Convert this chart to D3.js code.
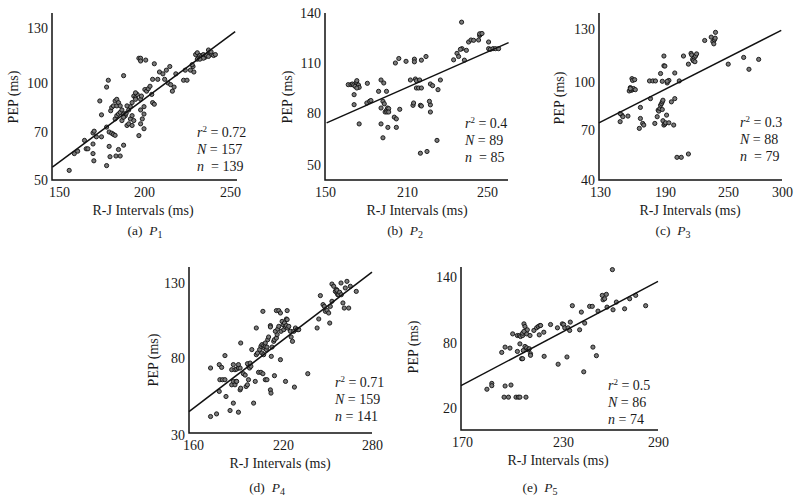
<!DOCTYPE html>
<html>
<head>
<meta charset="utf-8">
<script src="https://cdn.jsdelivr.net/npm/d3@7"></script>
<style>
html, body { margin: 0; padding: 0; background: #fff; }
svg text { font-family: "Liberation Serif", "Times New Roman", serif; fill: #1a1a1a; white-space: pre; }
</style>
</head>
<body>
<svg id="chart" width="800" height="502"></svg>
<script>
// values: R-J interval (ms) vs PEP (ms), one array per subject
var p1Points = [
    [156,54],[159,61],[161,62],[165,66.5],[166,63],[167,63],[170,69.6],[170.7,70.5],[170,65],[170,61],
    [170.5,58],[172,68],[174,89],[175,80.5],[175,68],[178,73],[178,97.5],[179,101.5],[178,56],[179.5,64],
    [179.5,70],[181,69.5],[182,69],[183,68.6],[180,59.7],[180.4,83],[181,85],[182,86],[183,89],[184,90],
    [184,86],[183.5,60],[185,62.7],[186,60],[188,64.5],[188,104],[183,78],[184,80],[185,81],[186,82],
    [187,83.5],[188,81],[189,80],[187,77],[188,79],[189.5,81.5],[185,88],[186,86],[190,74],[191,75],
    [192,78],[191,83.5],[192,85.5],[193,88],[190,86],[194,92],[195,91],[196,93],[195,94],[195,90],
    [193,80],[194,77],[193,74],[197,113.5],[198,113.5],[198,112],[201,112.5],[197,68.5],[198,75],[198,83.5],
    [199,78],[200,81],[200,85.5],[200,72],[198,90],[198.5,92],[200.5,96],[201.5,95],[202.5,96.5],[203.5,98],
    [204.5,93],[205,88],[206,87],[205,102],[206,110.5],[208,102],[209,106],[211,105],[212,102],[213,107],
    [215,109],[214,100],[215.5,99],[216.5,95],[217.5,97.5],[218.5,105],[223,101.5],[225,101.5],[224,107],[227,107],
    [228.5,109],[229,106],[228,110],[231,113],[232,114],[230,115.5],[231,116.5],[232.5,115],[233.5,114.5],[234.5,115.5],
    [235.5,114],[236.5,115],[237.5,114.5],[238.5,116.5],[239.5,115.5],[240.5,115],[241.5,115.5],[234.5,113.5],[232.5,113],[237.5,118],
    [239,117]
];
var p2Points = [
    [167,97],[169,97],[170,97.4],[171,96.8],[173,98.4],[173.3,99.4],[174,96],[172,96],[174.5,96.8],[175,95.4],
    [173.3,95],[171.3,91],[171.3,85],[175,73.7],[181,97.8],[180.6,86],[182.6,87],[183.6,87.5],[189.2,93],[191,99.8],
    [193,98],[195,93],[191,73.7],[192.4,65.7],[191,83],[192.4,87],[193.4,85.5],[194,80.6],[195,81.6],[195.8,83],
    [196.6,82.6],[195.3,80.6],[196.6,80.6],[196,71.7],[200.7,77.6],[202.2,76.6],[204.7,82.2],[201.5,110],[204,112.7],[209.3,111],
    [202.2,71.7],[211.7,99.8],[214.2,100.4],[214.7,99.4],[216.3,99.8],[214.7,95],[215.8,95],[217.2,95],[213.7,112.3],[213.7,110.7],
    [217.2,111.7],[219.5,113.9],[213,84.6],[213.3,86],[216.7,84.6],[217.2,84.2],[216.7,56.8],[220,57.8],[225,64.2],[221.7,97.4],
    [222.8,96.4],[225.5,94],[226.7,99.8],[221.7,84.9],[221.2,87],[221.7,80.6],[233.3,111.9],[235,115.8],[235.8,113.9],[237.5,118.6],
    [236.7,118.2],[238.7,111.7],[239.7,117.6],[237.3,134.5],[240.8,122.6],[242,123.8],[243.3,123.6],[245.8,123.8],[246.3,126.5],[246.7,127.3],
    [246.3,127.5],[247.5,127.7],[250.8,122.6],[250.8,118.6],[251.7,118.2],[253,118.6],[254.2,118.6],[255.8,118.6]
];
var p3Points = [
    [148.6,75.2],[150.2,79.3],[151.1,78.3],[148.6,80.3],[155.8,78.7],[157,94.4],[158,96.5],[158.9,94.8],[160.1,95.2],[161,95.9],
    [162.6,95.2],[159.5,101.9],[160.1,100.9],[162,101.3],[158,95.9],[167.3,84.1],[167.3,77.2],[169.4,74.1],[170.4,73.1],[166.3,71],
    [176.6,89.6],[175.7,100.6],[178.8,100.6],[181.2,100.6],[180.6,74.1],[182.8,78.3],[183.7,82.4],[184.3,81.8],[185.3,83.4],[185.9,85.5],
    [186.8,86.5],[187.5,87.6],[188.1,88.6],[187.5,82.8],[188.1,75.8],[189,73.1],[189.9,73.7],[191.5,79.3],[190.6,74.5],[193.7,74.5],
    [198.3,73.1],[185.9,104.8],[187.5,100.4],[189,114.7],[189,109.2],[189.9,109],[192.1,99.4],[193.7,100.9],[192.1,100.4],[196.1,87.6],
    [199.3,89.6],[199.3,105.1],[203.6,100.6],[207.6,114.7],[212.3,110.1],[201.4,53.6],[205.5,53.6],[212.3,55.6],[214.8,116.2],[215.4,115.3],
    [216.3,112.8],[217.9,113.9],[219.1,114.7],[220.1,115.9],[217,112],[218.5,111.5],[227.8,123.5],[234,125.4],[235.6,122.9],[236.5,121.6],
    [237.1,123.9],[238.1,128.1],[237.8,124.8],[250.2,110.1],[264.5,113.9],[269.4,107.2],[278.4,112.8]
];
var p4Points = [
    [171.7,42],[175.7,43.7],[184.7,45.9],[190.3,44.8],[186.9,50.7],[182,55],[171.7,73.5],[177.5,75.7],[179.1,73.9],[181.3,81.6],
    [177.5,58.3],[177.9,65.9],[179.7,65.9],[181.3,65.9],[185.8,62.6],[186.9,64.8],[188,62.6],[188.7,64.8],[185.8,72.4],[186.9,75.7],
    [188,72.4],[189.1,72.8],[190.3,73.5],[191.4,73.5],[190.3,75.7],[189.1,64.8],[191.4,59.3],[191.8,60.4],[191.8,90],[193.6,69.8],
    [194.8,68.9],[195.4,61.5],[196.3,62.6],[197,65.9],[197.2,75],[196.3,76.3],[197.7,73.5],[198.6,74.6],[198.1,76.7],[200.4,50.7],
    [201.5,64.8],[199.2,85.6],[202.2,100],[202.2,82.2],[203,83.3],[203.7,70.7],[205.3,70.7],[206.6,69.8],[204.4,85.6],[205.3,87.8],
    [206,88.9],[207.1,88.2],[207.5,86.7],[208.2,87.8],[208.9,85.6],[209.3,87.3],[206,83.3],[207.1,82.2],[208.2,90],[209.8,92.2],
    [210.4,94],[206.6,111.1],[208.2,65.9],[209.3,65.9],[211.6,59.3],[212,57.2],[211.6,101.6],[211.6,100.7],[212.2,81.1],[212.7,87.3],
    [213.8,91.1],[214.3,92.2],[215.6,93.3],[216.1,95.6],[214.9,97.8],[216.5,99.3],[217.2,101.1],[214.3,68.5],[215.6,111.6],[217.2,111.6],
    [218.3,110],[218.3,78.9],[218.7,97.8],[219.4,104.4],[220.1,102.2],[221,103.3],[220.5,98.9],[221.7,100.7],[222.3,106],[222.3,101.6],
    [221.7,64.8],[222.8,111.6],[222.8,105.6],[223.2,100],[223.9,101.1],[225,97.8],[225.5,94],[226.4,91.1],[227.3,97.8],[227.7,61.1],
    [228.4,100],[229.5,98.9],[230.6,98.9],[236.7,69.8],[243,100],[244.1,106],[245.2,121.6],[247,115.6],[247.9,114.4],[248.6,111.1],
    [249.7,111.8],[250.8,110],[251.5,103.3],[251.9,114.4],[253,117.8],[253,129.3],[254.2,127.8],[255.3,124.4],[256,125.6],[256.4,123.3],
    [256.9,122.2],[257.5,122.2],[256.4,125.1],[258.2,123.8],[259.1,130],[259.3,122.2],[260.4,116.7],[261.3,113.3],[262,126.7],[263.1,131.1],
    [264.3,113.3],[265.4,127.8],[269.4,124.4]
];
var p5Points = [
    [184.8,37.3],[187.7,42.7],[187.7,40.6],[195.6,40.3],[199.1,41.2],[195,30],[197.6,30],[202.1,30],[203.5,30],[204.4,30],
    [208,30],[193.6,71.3],[195.6,76.2],[198.5,75.3],[200.1,88.3],[202.9,86.8],[204.1,86.8],[204.8,85.9],[206,86.8],[206,88.9],
    [206.8,97.4],[207.4,95],[208.4,88.3],[208.8,92],[210.4,86.8],[206.8,90.5],[202.9,72.2],[204.4,79.2],[205.4,65.5],[206,65.5],
    [206.4,73.1],[207.4,76.8],[208.4,75.6],[209.4,73.7],[210,74.7],[210.7,70.1],[210.7,68.6],[212.7,91.4],[214.3,93.8],[215.3,95],
    [216.3,95.9],[216.7,95.9],[215.9,87.4],[218.6,89.8],[218.8,67.7],[222.6,96.8],[226.7,93.8],[227.1,60.4],[229.6,97.4],[230.4,96.8],
    [231.1,93.8],[232.5,67.1],[233.2,93.8],[234.2,91.4],[234.6,99],[235.9,113.9],[240.5,92],[241.6,108.1],[243.7,98.1],[243.1,53.4],
    [246.8,113.3],[248.5,113.3],[248.9,76.2],[251.1,68.3],[252.1,109],[254.8,123.3],[255.3,119.3],[256.3,120.2],[257.4,124.2],[257.8,112.6],
    [261.2,146.7],[261.6,110.2],[263.7,117.2],[268.9,111.1],[272.1,120.2],[275.9,123.3],[282.2,113.9]
];

// tick labels as printed (the original spacing is uneven, so each scale goes through them)
var xTicks1 = [150, 200, 250], yTicks1 = [50, 70, 100, 130];
var xTicks2 = [150, 210, 250], yTicks2 = [50, 80, 110, 140];
var xTicks3 = [130, 190, 250, 300], yTicks3 = [40, 70, 100, 130];
var xTicks4 = [160, 220, 280], yTicks4 = [30, 80, 130];
var xTicks5 = [170, 230, 290], yTicks5 = [20, 80, 140];

// fitted line, two ends in data units
var fit1 = [[146.1, 55.4], [253, 128]];
var fit2 = [[151.2, 74.3], [260.8, 122.2]];
var fit3 = [[129, 74.5], [299.3, 129.2]];
var fit4 = [[157.3, 45.2], [280, 137.3]];
var fit5 = [[169.4, 40.6], [290, 136]];

// r^2, N, n
var stats1 = ['0.72', '157', '139'];
var stats2 = ['0.4', '89', '85'];
var stats3 = ['0.3', '88', '79'];
var stats4 = ['0.71', '159', '141'];
var stats5 = ['0.5', '86', '74'];

var letters = ['a', 'b', 'c', 'd', 'e'];

(function(){
    'use strict';

    var svg = d3.select( '#chart' ),
        // pixel boxes: frame, where the tick labels sit, titles
        boxes = [
            { left: 52, right: 237, top: 13, bottom: 180, xAt: [59, 144, 230], yAt: [180, 132, 83, 28],
              yTitle: [13, 97], xTitle: [143, 214.5], caption: [145, 235], stats: [197, 136.5], nPad: true },
            { left: 325, right: 508, top: 13, bottom: 180, xAt: [325, 407, 487], yAt: [165, 113, 63, 13],
              yTitle: [287, 97], xTitle: [417, 214.5], caption: [405, 235], stats: [465, 127.5], nPad: true },
            { left: 599, right: 782, top: 13, bottom: 180, xAt: [600, 665, 728, 782], yAt: [180, 130, 82, 29],
              yTitle: [559, 98], xTitle: [690, 214.5], caption: [673, 235], stats: [740, 126.5], nPad: true },
            { left: 189, right: 372, top: 267, bottom: 433, xAt: [193, 283, 372], yAt: [435, 358, 283],
              yTitle: [153, 360], xTitle: [280, 467.5], caption: [267, 492], stats: [335, 386.5], nPad: false },
            { left: 461, right: 658, top: 267, bottom: 430, xAt: [462, 563, 658], yAt: [408, 343, 277],
              yTitle: [413, 347], xTitle: [558, 464.5], caption: [540, 492], stats: [608, 389.5], nPad: false }
        ],
        panels = [
            { points: p1Points, xTicks: xTicks1, yTicks: yTicks1, fit: fit1, stats: stats1 },
            { points: p2Points, xTicks: xTicks2, yTicks: yTicks2, fit: fit2, stats: stats2 },
            { points: p3Points, xTicks: xTicks3, yTicks: yTicks3, fit: fit3, stats: stats3 },
            { points: p4Points, xTicks: xTicks4, yTicks: yTicks4, fit: fit4, stats: stats4 },
            { points: p5Points, xTicks: xTicks5, yTicks: yTicks5, fit: fit5, stats: stats5 }
        ];

    // d3 axis sets its own small sans font on the group; put the serif back
    function plainAxis( a ){
        a.attr( 'font-size', 14 ).attr( 'font-family', null );
        a.select( '.domain' ).remove();
    }

    function drawPanel( p, b, i ){
        var x = d3.scaleLinear().domain( p.xTicks ).range( b.xAt ),
            y = d3.scaleLinear().domain( p.yTicks ).range( b.yAt ),
            g = svg.append( 'g' ).attr( 'class', 'panel' ),
            st;

        g.append( 'g' )
            .attr( 'transform', 'translate(0,' + b.bottom + ')' )
            .call( d3.axisBottom( x ).tickValues( p.xTicks ).tickSize( 0 ).tickPadding( 7 ) )
            .call( plainAxis );

        g.append( 'g' )
            .attr( 'transform', 'translate(' + b.left + ',0)' )
            .call( d3.axisLeft( y ).tickValues( p.yTicks ).tickSize( 0 ).tickPadding( 4 ) )
            .call( plainAxis );

        g.selectAll( 'circle' )
            .data( p.points )
            .join( 'circle' )
            .attr( 'cx', function( d ){ return x( d[0] ); } )
            .attr( 'cy', function( d ){ return y( d[1] ); } )
            .attr( 'r', 2.1 )
            .attr( 'fill', '#7a7a7a' )
            .attr( 'stroke', '#111' )
            .attr( 'stroke-width', 0.9 );

        g.append( 'line' )
            .attr( 'x1', x( p.fit[0][0] ) )
            .attr( 'y1', y( p.fit[0][1] ) )
            .attr( 'x2', x( p.fit[1][0] ) )
            .attr( 'y2', y( p.fit[1][1] ) )
            .attr( 'stroke', '#111' )
            .attr( 'stroke-width', 1.5 );

        // L-shaped frame
        g.append( 'path' )
            .attr( 'd', 'M' + b.left + ',' + b.top + 'V' + b.bottom + 'H' + b.right )
            .attr( 'fill', 'none' )
            .attr( 'stroke', '#111' )
            .attr( 'stroke-width', 1.5 );

        g.append( 'text' )
            .attr( 'transform', 'translate(' + b.yTitle[0] + ',' + b.yTitle[1] + ') rotate(-90)' )
            .attr( 'text-anchor', 'middle' )
            .attr( 'dy', '0.35em' )
            .attr( 'font-size', 14 )
            .text( 'PEP (ms)' );

        g.append( 'text' )
            .attr( 'x', b.xTitle[0] )
            .attr( 'y', b.xTitle[1] )
            .attr( 'text-anchor', 'middle' )
            .attr( 'font-size', 14 )
            .text( 'R-J Intervals (ms)' );

        st = g.append( 'text' ).attr( 'font-size', 14 );
        st.append( 'tspan' ).attr( 'x', b.stats[0] ).attr( 'y', b.stats[1] )
            .attr( 'font-style', 'italic' ).text( 'r' );
        st.append( 'tspan' ).attr( 'dy', -5 ).attr( 'font-size', 9 ).text( '2' );
        st.append( 'tspan' ).attr( 'dy', 5 ).text( ' = ' + p.stats[0] );

        st = g.append( 'text' ).attr( 'font-size', 14 )
            .attr( 'x', b.stats[0] ).attr( 'y', b.stats[1] + 17 );
        st.append( 'tspan' ).attr( 'font-style', 'italic' ).text( 'N' );
        st.append( 'tspan' ).text( ' = ' + p.stats[1] );

        st = g.append( 'text' ).attr( 'font-size', 14 )
            .attr( 'x', b.stats[0] ).attr( 'y', b.stats[1] + 34 );
        st.append( 'tspan' ).attr( 'font-style', 'italic' ).text( 'n' );
        st.append( 'tspan' ).text( ( b.nPad ? '  = ' : ' = ' ) + p.stats[2] );

        st = g.append( 'text' ).attr( 'font-size', 13.5 )
            .attr( 'x', b.caption[0] ).attr( 'y', b.caption[1] )
            .attr( 'text-anchor', 'middle' );
        st.append( 'tspan' ).text( '(' + letters[i] + ')  ' );
        st.append( 'tspan' ).attr( 'font-style', 'italic' ).text( 'P' );
        st.append( 'tspan' ).attr( 'dy', 3 ).attr( 'font-size', 10 ).text( String( i + 1 ) );
    }

    panels.forEach( function( p, i ){
        drawPanel( p, boxes[i], i );
    });
})();
</script>
</body>
</html>
